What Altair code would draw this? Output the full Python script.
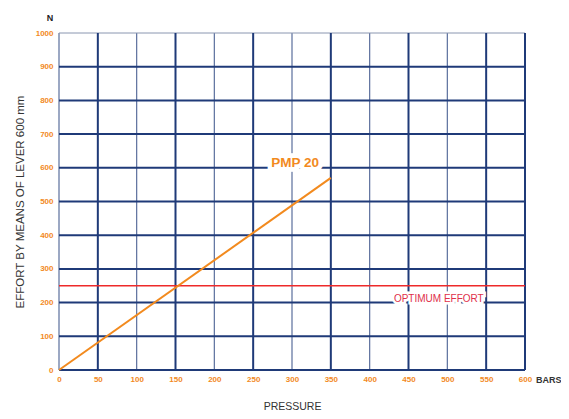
import altair as alt
import pandas as pd

# data
line_x = [0, 350]
line_y = [0, 570]
optimum = 250
x_ticks = [0, 50, 100, 150, 200, 250, 300, 350, 400, 450, 500, 550, 600]
y_ticks = [0, 100, 200, 300, 400, 500, 600, 700, 800, 900, 1000]
x_major = [50, 150, 250, 350, 450, 550, 600]
x_minor = [0, 100, 200, 300, 400, 500]
y_grid = [100, 200, 300, 400, 500, 600, 700, 800, 900]
label_pmp = {"x": 304, "y": 614, "text": "PMP 20"}
label_opt = {"x": 489, "y": 211, "text": "OPTIMUM EFFORT"}

NAVY = "#1f3a78"
ORANGE = "#f28a1e"

xs = alt.Scale(domain=[0, 600], nice=False)
ys = alt.Scale(domain=[0, 1000], nice=False)

x_axis = alt.Axis(values=x_ticks, grid=False, domain=False, ticks=False,
                  format="d", labelOverlap=False, labelFlush=False,
                  labelColor=ORANGE, labelFontSize=8, labelFontWeight="bold",
                  labelPadding=5,
                  title="PRESSURE", titleFontSize=10.5, titleFontWeight="normal",
                  titleColor="#333333", titlePadding=18,
                  labelFont="Liberation Sans", titleFont="Liberation Sans")
y_axis = alt.Axis(values=y_ticks, grid=False, domain=False, ticks=False,
                  format="d", labelOverlap=False, labelFlush=False,
                  labelColor=ORANGE, labelFontSize=8, labelFontWeight="bold",
                  labelPadding=6,
                  title="EFFORT BY MEANS OF LEVER 600 mm", titleFontSize=11.5,
                  titleFontWeight="normal", titleColor="#333333", titlePadding=10,
                  labelFont="Liberation Sans", titleFont="Liberation Sans")

def X(field="x"):
    return alt.X(f"{field}:Q", scale=xs, axis=x_axis)

def Y(field="y"):
    return alt.Y(f"{field}:Q", scale=ys, axis=y_axis)

df_line = pd.DataFrame({"x": line_x, "y": line_y})
df_xmaj = pd.DataFrame({"x": x_major})
df_xmin = pd.DataFrame({"x": x_minor})
df_yg = pd.DataFrame({"y": y_grid})
df_top = pd.DataFrame({"y": [1000]})
df_opt = pd.DataFrame({"y": [optimum]})
df_pmp = pd.DataFrame([label_pmp])
df_optl = pd.DataFrame([label_opt])

hgrid = alt.Chart(df_yg).mark_rule(color=NAVY, strokeWidth=2).encode(y=Y())
top = alt.Chart(df_top).mark_rule(color="#8a96b0", strokeWidth=1).encode(y=Y())
bottom = alt.Chart(pd.DataFrame({"y": [0]})).mark_rule(color=NAVY, strokeWidth=2).encode(y=Y())
vmaj = alt.Chart(df_xmaj).mark_rule(color=NAVY, strokeWidth=2).encode(x=X())
vmin = alt.Chart(df_xmin).mark_rule(color="#5a6e9c", strokeWidth=1.2).encode(x=X())

optline = alt.Chart(df_opt).mark_rule(color="#ee2a2a", strokeWidth=1.5).encode(y=Y())

pmp_line = alt.Chart(df_line).mark_line(color=ORANGE, strokeWidth=2).encode(x=X(), y=Y())

pmp_bg = alt.Chart(df_pmp).mark_text(fontSize=13.5, fontWeight="bold", font="Liberation Sans",
                                     stroke="white", strokeWidth=9, color="white").encode(
    x=X(), y=Y(), text="text:N")
pmp_txt = alt.Chart(df_pmp).mark_text(fontSize=13.5, fontWeight="bold", font="Liberation Sans",
                                      color=ORANGE).encode(x=X(), y=Y(), text="text:N")

opt_bg = alt.Chart(df_optl).mark_text(fontSize=10, font="Liberation Sans",
                                      stroke="white", strokeWidth=5, color="white").encode(
    x=X(), y=Y(), text="text:N")
opt_txt = alt.Chart(df_optl).mark_text(fontSize=10, font="Liberation Sans", color="#e0304a").encode(
    x=X(), y=Y(), text="text:N")

n_lbl = alt.Chart(pd.DataFrame({"t": ["N"]})).mark_text(
    fontSize=9, fontWeight="bold", font="Liberation Sans", color="#222222").encode(
    x=alt.value(-9), y=alt.value(-15), text="t:N")
bars_lbl = alt.Chart(pd.DataFrame({"t": ["BARS"]})).mark_text(
    fontSize=9, font="Liberation Sans", color="#333333", align="left", fontWeight="bold").encode(
    x=alt.value(477), y=alt.value(347), text="t:N")

chart = alt.layer(
    vmin, hgrid, top, bottom, vmaj, optline, pmp_line,
    pmp_bg, pmp_txt, opt_bg, opt_txt, n_lbl, bars_lbl
).properties(
    width=466, height=337,
    autosize=alt.AutoSizeParams(type="none"),
    padding={"left": 51, "top": 25, "right": 36, "bottom": 41},
    background="white",
).configure_view(stroke=None)

chart.save("out.html", embed_options={"renderer": "svg", "actions": False})
